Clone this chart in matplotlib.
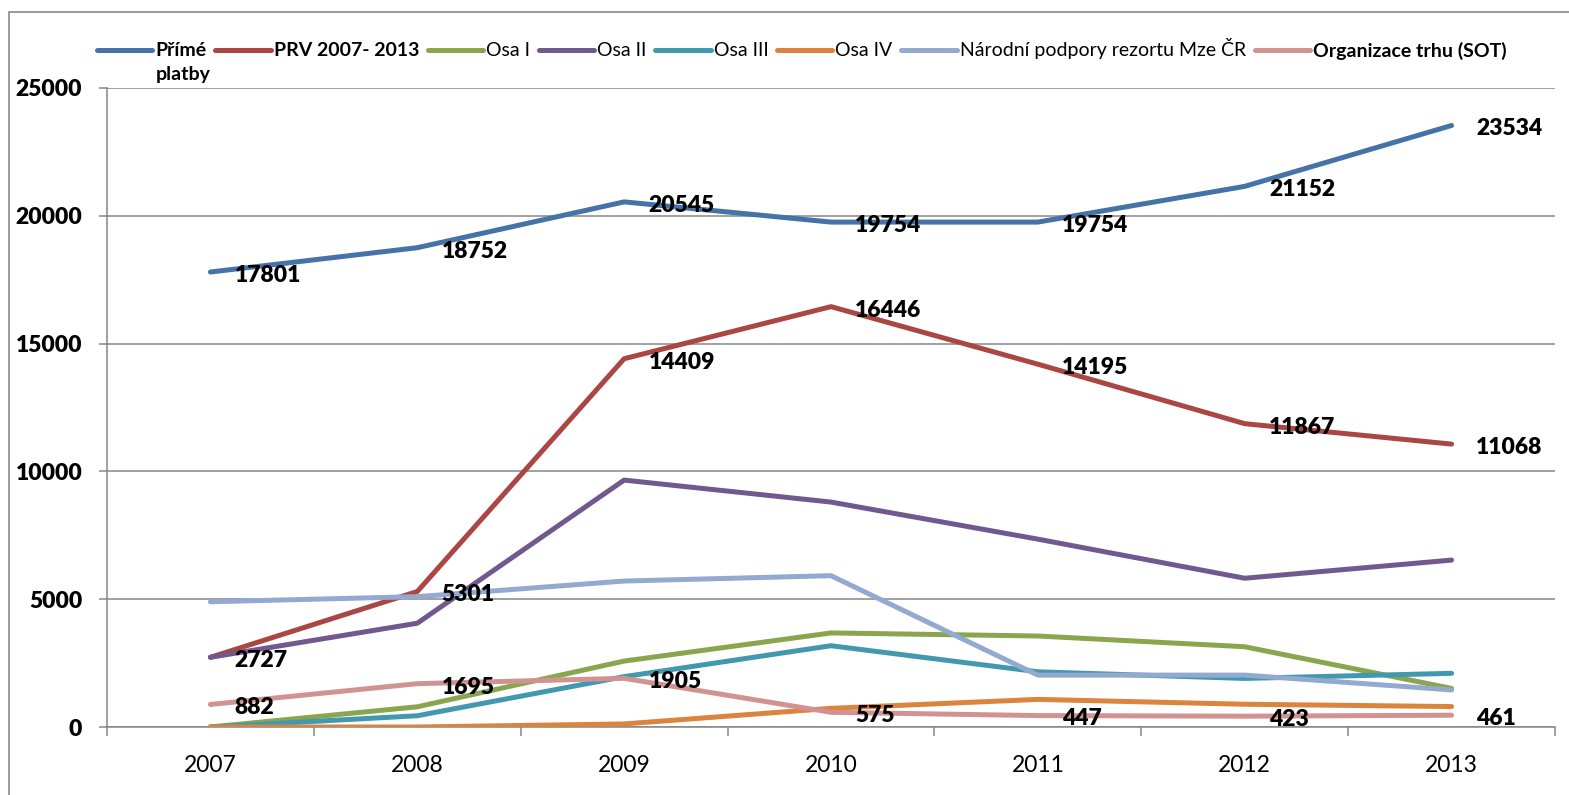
import matplotlib
matplotlib.use("Agg")
import matplotlib.pyplot as plt
from matplotlib.patches import Rectangle
from matplotlib.ticker import FixedLocator, MultipleLocator

plt.rcParams['font.family'] = ['Lato', 'DejaVu Sans']

# --- data -------------------------------------------------------------
years = ['2007', '2008', '2009', '2010', '2011', '2012', '2013']

prime_platby = [17801, 18752, 20545, 19754, 19754, 21152, 23534]
prv = [2727, 5301, 14409, 16446, 14195, 11867, 11068]
osa_1 = [0, 790, 2580, 3680, 3560, 3140, 1510]
osa_2 = [2727, 4060, 9660, 8800, 7350, 5820, 6530]
osa_3 = [0, 440, 1970, 3180, 2160, 1900, 2100]
osa_4 = [0, 0, 120, 730, 1080, 890, 800]
narodni = [4900, 5100, 5710, 5920, 2030, 2030, 1450]
sot = [882, 1695, 1905, 575, 447, 423, 461]

series_names = ['Přímé', 'PRV 2007- 2013', 'Osa I', 'Osa II', 'Osa III',
                'Osa IV', 'Národní podpory rezortu Mze ČR',
                'Organizace trhu (SOT)']
series_values = [prime_platby, prv, osa_1, osa_2, osa_3, osa_4, narodni, sot]
series_colors = ['#4572A7', '#AA4643', '#89A54E', '#71588F', '#4198AF',
                 '#DB843D', '#93A9CF', '#D19392']
bold_legend = [True, True, False, False, False, False, False, True]
labelled = [True, True, False, False, False, False, False, True]

# --- figure -----------------------------------------------------------
W, H = 1569, 795
fig = plt.figure(figsize=(W / 100, H / 100), dpi=100)
ax = fig.add_axes([107 / W, 1 - 727 / H, (1555 - 107) / W, (727 - 88) / H])

grey = '#868686'
x = list(range(len(years)))

lines = []
for vals, col in zip(series_values, series_colors):
    ln, = ax.plot(x, vals, color=col, lw=3.6, solid_capstyle='round',
                  solid_joinstyle='round', zorder=3)
    lines.append(ln)

for vals, lab in zip(series_values, labelled):
    if not lab:
        continue
    for xi, v in zip(x, vals):
        ax.annotate(f'{v}', (xi, v), xytext=(17.5, -1.0),
                    textcoords='offset points', ha='left',
                    va='center_baseline', fontsize=16.5, fontweight='heavy',
                    color='black', zorder=5)

ax.set_xlim(-0.5, len(years) - 0.5)
ax.set_ylim(0, 25000)

ax.yaxis.set_major_locator(MultipleLocator(5000))
ax.grid(axis='y', color=grey, lw=1.1, zorder=1)
ax.set_axisbelow(True)

ax.set_xticks(x)
ax.set_xticklabels(years, fontsize=16.5)
ax.xaxis.set_minor_locator(FixedLocator([i - 0.5 for i in range(len(years) + 1)]))
ax.tick_params(axis='x', which='major', length=0, pad=20.5)
ax.tick_params(axis='x', which='minor', length=6.5, width=1.1, color=grey,
               direction='out')
ax.tick_params(axis='y', length=5.8, width=1.1, color=grey, pad=12)
for t in ax.get_yticklabels():
    t.set_fontsize(16.5)
    t.set_fontweight('heavy')

for side in ('top', 'right'):
    ax.spines[side].set_visible(False)
for side in ('left', 'bottom'):
    ax.spines[side].set_color(grey)
    ax.spines[side].set_linewidth(1.1)

# --- legend -----------------------------------------------------------
leg = fig.legend(lines, series_names, loc='center left',
                 bbox_to_anchor=(97 / W, 1 - 49 / H), ncol=8, frameon=False,
                 fontsize=14, handlelength=2.85, handletextpad=0.15,
                 columnspacing=0.45, borderpad=0, borderaxespad=0)
for t, b in zip(leg.get_texts(), bold_legend):
    t.set_fontweight('bold' if b else 'normal')
for h in leg.legend_handles:
    h.set_linewidth(3.6)
    h.set_solid_capstyle('round')

fig.canvas.draw()
bb = leg.get_texts()[0].get_window_extent()
fig.text(bb.x0 / W, ((bb.y0 + bb.y1) / 2 - 24) / H, 'platby', fontsize=14,
         fontweight='bold', ha='left', va='center')

# chart-area frame
fig.patches.append(Rectangle((9 / W, -0.1), 2, 1.1 - 12 / H,
                             transform=fig.transFigure, fill=False,
                             edgecolor='#8a8a8a', lw=1.2))

fig.savefig('out.png', dpi=100)
